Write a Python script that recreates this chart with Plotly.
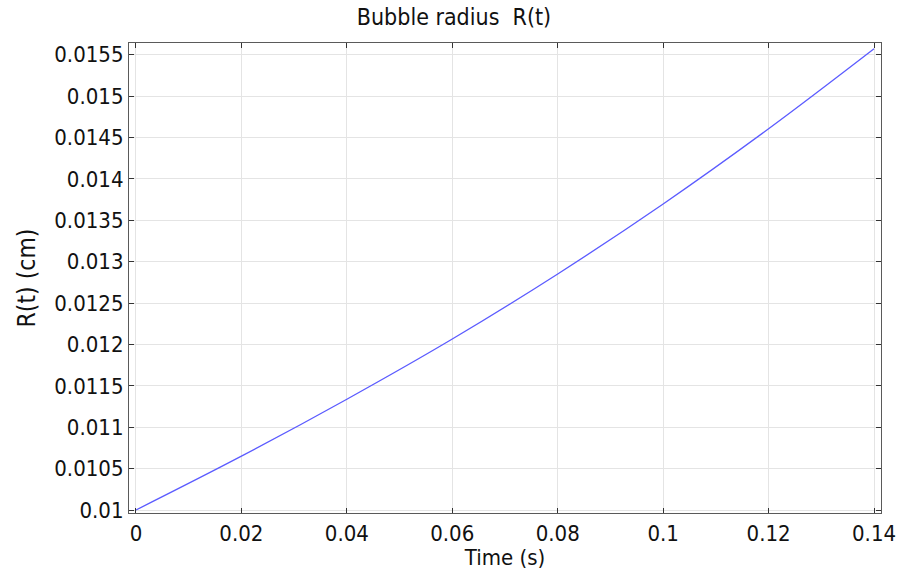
import plotly.graph_objects as go

# Bubble radius over time
time_s = [0.0, 0.02, 0.04, 0.06, 0.08, 0.10, 0.12, 0.14]
radius_cm = [0.01, 0.01065, 0.011338, 0.012065, 0.012851, 0.013696, 0.014604, 0.01557]

x_tickvals = [0, 0.02, 0.04, 0.06, 0.08, 0.10, 0.12, 0.14]
x_ticktext = ["0", "0.02", "0.04", "0.06", "0.08", "0.1", "0.12", "0.14"]
y_tickvals = [0.01, 0.0105, 0.011, 0.0115, 0.012, 0.0125, 0.013, 0.0135,
              0.014, 0.0145, 0.015, 0.0155]
y_ticktext = ["0.01", "0.0105", "0.011", "0.0115", "0.012", "0.0125", "0.013",
              "0.0135", "0.014", "0.0145", "0.015", "0.0155"]

font_family = "DejaVu Sans Condensed, DejaVu Sans"

fig = go.Figure()
fig.add_trace(go.Scatter(
    x=time_s, y=radius_cm, mode="lines",
    line=dict(color="#5b5bff", width=1.3, shape="spline"),
    showlegend=False,
))

axis_common = dict(
    showline=True, linecolor="#5a5a5a", linewidth=1.2, mirror="ticks",
    ticks="inside", ticklen=5, tickcolor="#333333", tickwidth=1,
    showgrid=True, gridcolor="#e4e4e4", gridwidth=1, zeroline=False,
    tickfont=dict(family=font_family, size=22, color="#111111"),
)

fig.update_layout(
    width=908, height=573,
    margin=dict(l=129, r=25, t=43, b=55),
    paper_bgcolor="white", plot_bgcolor="white",
    title=dict(text="Bubble radius\u00a0 R(t)", x=0.5, xanchor="center",
               y=0.97, yanchor="middle",
               font=dict(family=font_family, size=23, color="#111111")),
    xaxis=dict(range=[-0.00132, 0.14132], tickvals=x_tickvals, ticktext=x_ticktext,
               title=dict(text="Time (s)", standoff=0,
                          font=dict(family=font_family, size=22, color="#111111")),
               **axis_common),
    yaxis=dict(range=[0.009964, 0.01564], tickvals=y_tickvals, ticktext=y_ticktext,
               title=dict(text="R(t) (cm)", standoff=11,
                          font=dict(family=font_family, size=24.5, color="#111111")),
               **axis_common),
)

fig.write_html("out.html")
